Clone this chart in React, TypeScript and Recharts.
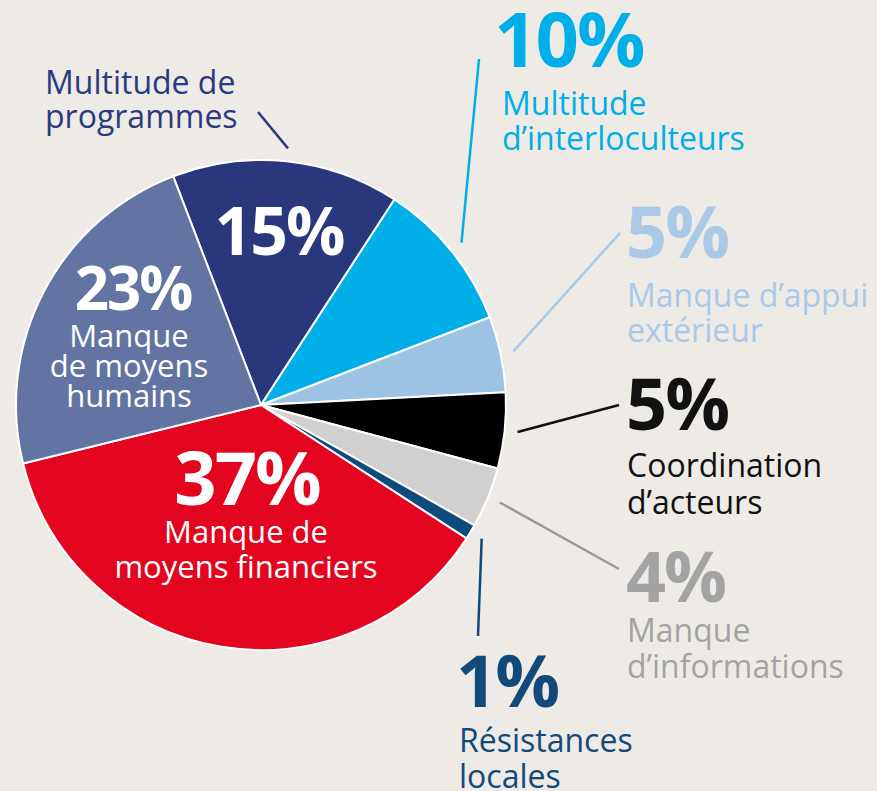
import React from 'react';
import { PieChart, Pie, Cell } from 'recharts';

// slice order runs clockwise from the top
const categories = [
  'Multitude de programmes',
  'Multitude d’interloculteurs',
  'Manque d’appui extérieur',
  'Coordination d’acteurs',
  'Manque d’informations',
  'Résistances locales',
  'Manque de moyens financiers',
  'Manque de moyens humains'
];
const shares = [15, 10, 5, 5, 4, 1, 37, 23];
const labelLines = [
  ['Multitude de', 'programmes'],
  ['Multitude', 'd’interloculteurs'],
  ['Manque d’appui', 'extérieur'],
  ['Coordination', 'd’acteurs'],
  ['Manque', 'd’informations'],
  ['Résistances', 'locales'],
  ['Manque de', 'moyens financiers'],
  ['Manque', 'de moyens', 'humains']
];

const sliceColors = ['#29377c', '#00aee8', '#9cc3e3', '#000000', '#d0d0d0', '#0e4a7b', '#e3051f', '#6174a2'];
const textColors = ['#2b3a7e', '#00aee8', '#a9c9e7', '#111111', '#a3a3a3', '#114a7a', '#ffffff', '#ffffff'];

const FONT = '"Open Sans", "DejaVu Sans", sans-serif';
const RADIAN = Math.PI / 180;

type Callout = {
  pct: { x: number; y: number; size: number; anchor: 'start' | 'middle' } | null;
  text: { x: number; ys: number[]; size: number; anchor: 'start' | 'middle'; fill: string };
  leader?: [number, number];
};

// where each slice's annotation sits
const callouts: Callout[] = [
  {
    pct: { x: 279, y: 255, size: 66, anchor: 'middle' },
    text: { x: 45, ys: [94, 128], size: 32, anchor: 'start', fill: textColors[0] },
    leader: [258, 112]
  },
  {
    pct: { x: 494, y: 67, size: 76, anchor: 'start' },
    text: { x: 502, ys: [115, 150], size: 32, anchor: 'start', fill: textColors[1] },
    leader: [479, 59]
  },
  {
    pct: { x: 626, y: 258, size: 72, anchor: 'start' },
    text: { x: 627, ys: [307, 342], size: 32, anchor: 'start', fill: textColors[2] },
    leader: [620, 233]
  },
  {
    pct: { x: 626, y: 430, size: 72, anchor: 'start' },
    text: { x: 627, ys: [477, 514], size: 32, anchor: 'start', fill: textColors[3] },
    leader: [619, 405]
  },
  {
    pct: { x: 626, y: 602, size: 70, anchor: 'start' },
    text: { x: 627, ys: [642, 678], size: 32, anchor: 'start', fill: textColors[4] },
    leader: [619, 569]
  },
  {
    pct: { x: 456, y: 707, size: 72, anchor: 'start' },
    text: { x: 459, ys: [752, 788], size: 32, anchor: 'start', fill: textColors[5] },
    leader: [478, 636]
  },
  {
    pct: { x: 247, y: 505, size: 74, anchor: 'middle' },
    text: { x: 246, ys: [543, 578], size: 31, anchor: 'middle', fill: '#ffffff' }
  },
  {
    pct: { x: 133, y: 310, size: 60, anchor: 'middle' },
    text: { x: 129, ys: [347, 377, 407], size: 31, anchor: 'middle', fill: '#ffffff' }
  }
];

const rows = categories.map((name, i) => ({ name, share: shares[i] }));

const renderCallout = (props: any) => {
  const { cx, cy, midAngle, outerRadius, index, value } = props;
  const c = callouts[index];
  const pctFill = index === 0 ? '#ffffff' : textColors[index];
  let line = null;
  if (c.leader) {
    const r = outerRadius + 13;
    const sx = cx + r * Math.cos(-midAngle * RADIAN);
    const sy = cy + r * Math.sin(-midAngle * RADIAN);
    line = (
      <line
        x1={sx}
        y1={sy}
        x2={c.leader[0]}
        y2={c.leader[1]}
        stroke={index === 4 ? '#9a9a9a' : textColors[index]}
        strokeWidth={2.5}
      />
    );
  }
  return (
    <g key={`callout-${index}`}>
      {line}
      {c.pct && (
        <text
          x={c.pct.x}
          y={c.pct.y}
          textAnchor={c.pct.anchor}
          fontFamily={FONT}
          fontWeight={700}
          fontSize={c.pct.size}
          fill={pctFill}
          letterSpacing={-2}
        >
          {value}%
        </text>
      )}
      {labelLines[index].map((t, j) => (
        <text
          key={t}
          x={c.text.x}
          y={c.text.ys[j]}
          textAnchor={c.text.anchor}
          fontFamily={FONT}
          fontWeight={500}
          fontSize={c.text.size}
          fill={c.text.fill}
        >
          {t}
        </text>
      ))}
    </g>
  );
};

export default function App() {
  return (
    <div style={{ position: 'absolute', left: 0, top: 0, width: 877, height: 791, background: '#eeebe6' }}>
      <PieChart width={877} height={791} margin={{ top: 0, right: 0, bottom: 0, left: 0 }}>
        <Pie
          data={rows}
          dataKey="share"
          nameKey="name"
          cx={261}
          cy={405}
          outerRadius={245}
          startAngle={111}
          endAngle={-249}
          stroke="#ffffff"
          strokeWidth={2}
          label={renderCallout}
          labelLine={false}
          isAnimationActive={false}
        >
          {rows.map((row, i) => (
            <Cell key={row.name} fill={sliceColors[i]} />
          ))}
        </Pie>
      </PieChart>
    </div>
  );
}
